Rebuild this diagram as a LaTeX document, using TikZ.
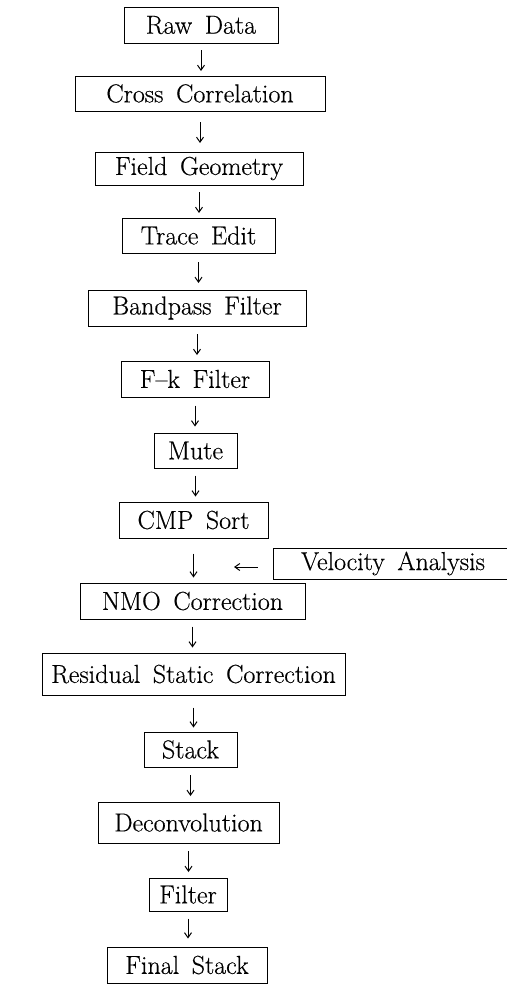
\documentclass[tikz,border=0pt]{standalone}
\usepackage{fontspec}
\newfontfamily\boxfont{Latin Modern Roman}[Ligatures=TeX,WordSpace=1.6,FakeBold=0.4]
\usetikzlibrary{arrows.meta}
\begin{document}
\begin{tikzpicture}[x=1pt,y=-1pt,
  stepbox/.style={draw,line width=1pt,inner sep=0pt,
    font=\boxfont\fontsize{26}{26}\selectfont},
  arr/.style={line width=1pt,-{Straight Barb[length=5pt,width=7pt,line width=1pt]}}]
\useasboundingbox (0,0) rectangle (506,985);
\node[stepbox,minimum width=154pt,minimum height=36pt] (raw) at (201,25) {Raw Data};
\node[stepbox,minimum width=250pt,minimum height=35pt] (cross) at (200,93.5) {Cross Correlation};
\node[stepbox,minimum width=208pt,minimum height=33pt] (field) at (199,168.5) {Field Geometry};
\node[stepbox,minimum width=153pt,minimum height=35pt] (trace) at (198.5,235.5) {Trace Edit};
\node[stepbox,minimum width=218pt,minimum height=36pt] (band) at (197,308) {Bandpass Filter};
\node[stepbox,minimum width=148pt,minimum height=36pt] (fk) at (195,379) {F--k Filter};
\node[stepbox,minimum width=83pt,minimum height=35pt] (mute) at (195.5,450.5) {Mute};
\node[stepbox,minimum width=149pt,minimum height=36pt] (cmp) at (193.5,520) {CMP Sort};
\node[stepbox,minimum width=240pt,minimum height=31pt] (vel) at (393,563.5) {Velocity Analysis};
\node[stepbox,minimum width=225pt,minimum height=36pt] (nmo) at (192.5,601) {NMO Correction};
\node[stepbox,minimum width=303pt,minimum height=42pt] (resid) at (193.5,674) {Residual Static Correction};
\node[stepbox,minimum width=93pt,minimum height=35pt] (stack) at (190.5,749.5) {Stack};
\node[stepbox,minimum width=181pt,minimum height=41pt] (decon) at (188.5,822.5) {Deconvolution};
\node[stepbox,minimum width=78pt,minimum height=33pt] (filter) at (188,894.5) {Filter};
\node[stepbox,minimum width=160pt,minimum height=36pt] (final) at (187,965) {Final Stack};
\coordinate (join) at (194,567);
\draw[arr,shorten <=6.5pt,shorten >=4.5pt] (raw.south) -- (raw.south |- cross.north);
\draw[arr,shorten <=10.5pt,shorten >=8.5pt] (cross.south) -- (cross.south |- field.north);
\draw[arr,shorten <=6.5pt,shorten >=4.5pt] (field.south) -- (field.south |- trace.north);
\draw[arr,shorten <=8.5pt,shorten >=6.5pt] (trace.south) -- (trace.south |- band.north);
\draw[arr,shorten <=7.5pt,shorten >=5.5pt] (band.south) -- (band.south |- fk.north);
\draw[arr,shorten <=8pt,shorten >=6pt] (fk.south) -- (fk.south |- mute.north);
\draw[arr,shorten <=7pt,shorten >=5pt] (mute.south) -- (mute.south |- cmp.north);
\draw[arr,shorten <=15pt,shorten >=5pt] (cmp.south) -- (cmp.south |- nmo.north);
\draw[arr,shorten <=15pt,shorten >=40pt] (vel.west |- join) -- (join);
\draw[arr,shorten <=7pt,shorten >=5pt] (nmo.south) -- (nmo.south |- resid.north);
\draw[arr,shorten <=12pt,shorten >=4pt] (resid.south) -- (resid.south |- stack.north);
\draw[arr,shorten <=7.5pt,shorten >=5.5pt] (stack.south) -- (stack.south |- decon.north);
\draw[arr,shorten <=7.5pt,shorten >=5.5pt] (decon.south) -- (decon.south |- filter.north);
\draw[arr,shorten <=7pt,shorten >=8pt] (filter.south) -- (filter.south |- final.north);
\end{tikzpicture}
\end{document}
